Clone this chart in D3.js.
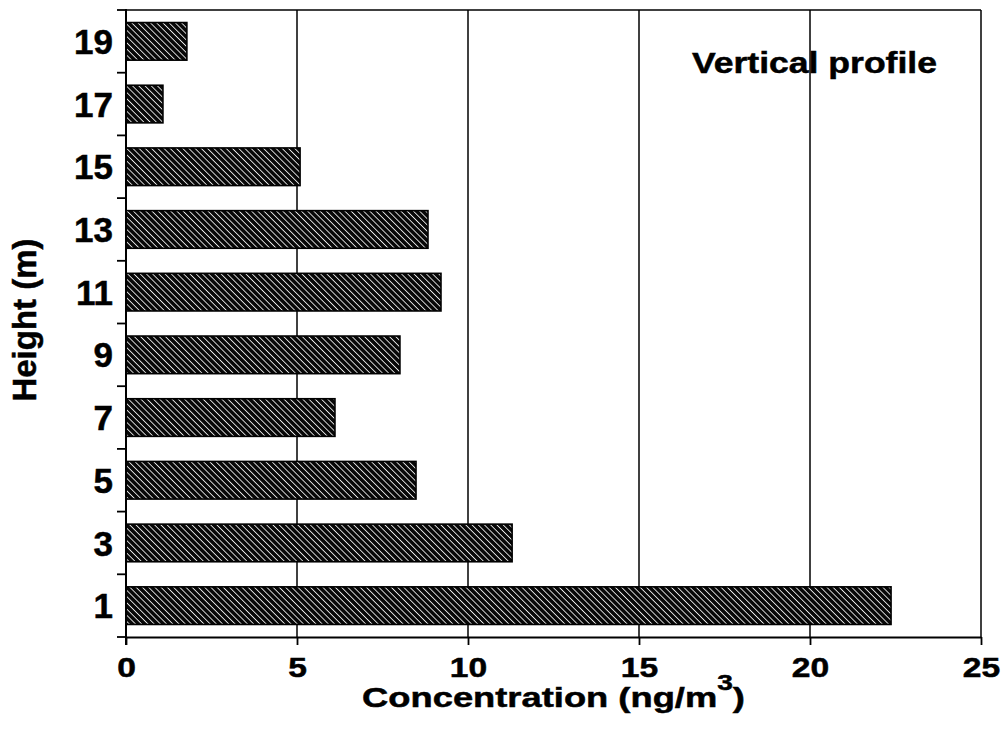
<!DOCTYPE html>
<html>
<head>
<meta charset="utf-8">
<script src="https://cdn.jsdelivr.net/npm/d3@7"></script>
<style>
  html, body { margin: 0; padding: 0; background: #fff; }
  svg { display: block; }
  svg text { stroke: #000; stroke-width: 0.5px; }
</style>
</head>
<body>
<svg id="chart" width="1008" height="730"></svg>
<script>
// Data
const heights = ["19", "17", "15", "13", "11", "9", "7", "5", "3", "1"];
const concentrations = [1.78, 1.08, 5.09, 8.83, 9.21, 8.01, 6.11, 8.48, 11.29, 22.37];
const xTicks = [0, 5, 10, 15, 20, 25];
const xLabel = "Concentration (ng/m";
const xLabelSup = "3";
const xLabelEnd = ")";
const yLabel = "Height (m)";
const title = "Vertical profile";

(function () {
const svg = d3.select("#chart");
const pLeft = 126, pRight = 981, pTop = 10, pBottom = 637;
const FONT = "'Liberation Sans', Arial, Helvetica, sans-serif";

const x = d3.scaleLinear().domain([0, 25]).range([pLeft, pRight]);
const y = d3.scaleBand().domain(heights).range([pTop, pBottom])
  .paddingInner(0.4).paddingOuter(0.2);

// hatch pattern
const defs = svg.append("defs");
const pat = defs.append("pattern")
  .attr("id", "hatch")
  .attr("patternUnits", "userSpaceOnUse")
  .attr("width", 4.4).attr("height", 4.4)
  .attr("patternTransform", "rotate(45)");
pat.append("rect").attr("width", 4.4).attr("height", 4.4).attr("fill", "#080808");
pat.append("line").attr("x1", 0).attr("x2", 4.4).attr("y1", 2.2).attr("y2", 2.2)
  .attr("stroke", "#e6e6e6").attr("stroke-width", 0.9);

// vertical grid lines (incl. right border at 25)
svg.append("g").selectAll("line")
  .data(xTicks.filter(d => d > 0))
  .join("line")
  .attr("x1", d => x(d)).attr("x2", d => x(d))
  .attr("y1", pTop).attr("y2", pBottom)
  .attr("stroke", "#000").attr("stroke-width", 1.5);

// top border
svg.append("line")
  .attr("x1", x(0)).attr("x2", x(25))
  .attr("y1", pTop).attr("y2", pTop)
  .attr("stroke", "#000").attr("stroke-width", 1.5);

// bars
const data = heights.map((h, i) => ({ h, v: concentrations[i] }));
svg.append("g").selectAll("rect")
  .data(data)
  .join("rect")
  .attr("x", x(0))
  .attr("y", d => y(d.h))
  .attr("width", d => x(d.v) - x(0))
  .attr("height", y.bandwidth())
  .attr("fill", "url(#hatch)")
  .attr("stroke", "#000")
  .attr("stroke-width", 1.6);

// x axis
const xAxis = svg.append("g")
  .attr("transform", `translate(0,${pBottom})`)
  .call(d3.axisBottom(x).tickValues(xTicks).tickSize(8).tickSizeOuter(0));
xAxis.select(".domain").attr("stroke-width", 2).attr("stroke", "#000");
xAxis.selectAll(".tick line").attr("stroke-width", 1.8).attr("stroke", "#000");
xAxis.selectAll(".tick text")
  .attr("font-family", FONT)
  .attr("font-weight", "bold")
  .attr("font-size", 28)
  .attr("fill", "#000")
  .attr("dy", null)
  .attr("y", null)
  .attr("transform", "translate(0,40) scale(1.2,1)");

// y axis line
svg.append("line")
  .attr("x1", pLeft).attr("x2", pLeft)
  .attr("y1", pTop - 1).attr("y2", pBottom + 8)
  .attr("stroke", "#000").attr("stroke-width", 2);

// y boundary ticks (between categories)
const step = y.step();
const boundaries = heights.map(h => y(h) - step * y.paddingInner() / 2);
boundaries.push(y(heights[heights.length - 1]) + y.bandwidth() + step * y.paddingInner() / 2);
svg.append("g").selectAll("line")
  .data(boundaries)
  .join("line")
  .attr("x1", pLeft - 9).attr("x2", pLeft)
  .attr("y1", d => d).attr("y2", d => d)
  .attr("stroke", "#000").attr("stroke-width", 1.8);

// y labels
const yAxis = svg.append("g")
  .attr("transform", `translate(${pLeft},0)`)
  .call(d3.axisLeft(y).tickSize(0).tickPadding(13));
yAxis.select(".domain").remove();
yAxis.selectAll(".tick text")
  .attr("font-family", FONT)
  .attr("font-weight", "bold")
  .attr("font-size", 35)
  .attr("fill", "#000")
  .attr("dy", "0.36em");

// x axis label (stretched horizontally like the reference lettering)
const xl = svg.append("text")
  .attr("text-anchor", "middle")
  .attr("font-family", FONT)
  .attr("font-weight", "bold")
  .attr("font-size", 28.5)
  .attr("fill", "#000");
xl.append("tspan").text(xLabel);
xl.append("tspan").text(xLabelSup).attr("font-size", 22).attr("dy", -17);
xl.append("tspan").text(xLabelEnd).attr("dy", 17);
const xlW = xl.node().getBBox().width;
xl.attr("transform", `translate(${(pLeft + pRight) / 2},707) scale(${383 / xlW},1)`);

// y axis label
svg.append("text")
  .attr("transform", `translate(36,${320}) rotate(-90)`)
  .attr("text-anchor", "middle")
  .attr("font-family", FONT)
  .attr("font-weight", "bold")
  .attr("font-size", 33)
  .attr("fill", "#000")
  .text(yLabel);

// title annotation
const tt = svg.append("text")
  .attr("font-family", FONT)
  .attr("font-weight", "bold")
  .attr("font-size", 29)
  .attr("fill", "#000")
  .text(title);
const ttW = tt.node().getBBox().width;
tt.attr("transform", `translate(692,73) scale(${245 / ttW},1)`);
})();
</script>
</body>
</html>
